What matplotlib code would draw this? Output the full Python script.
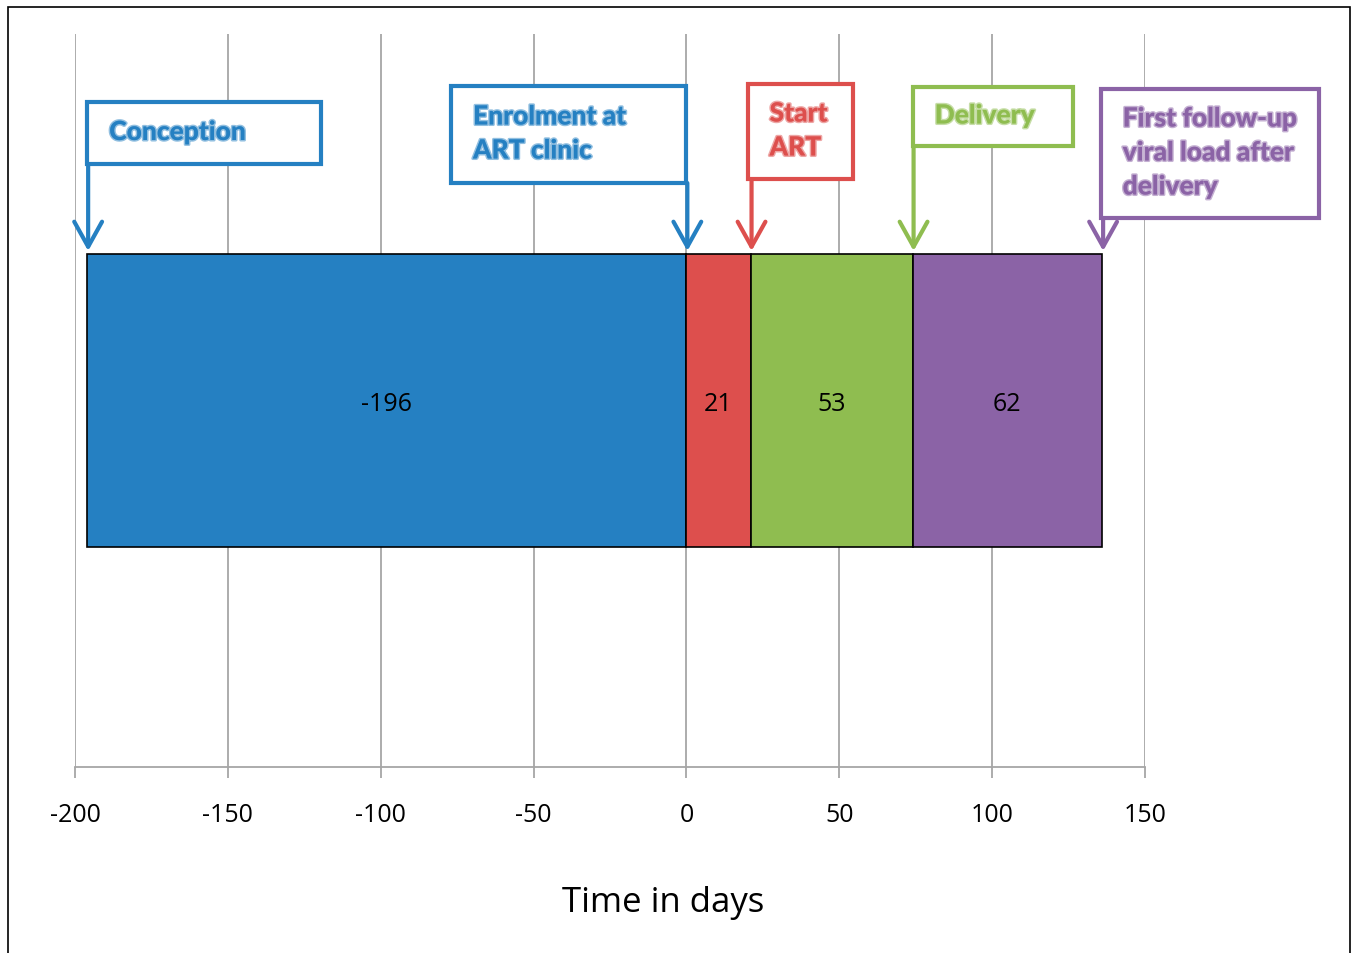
import matplotlib.pyplot as plt
from matplotlib.patches import Rectangle
from matplotlib import transforms
import matplotlib.patheffects as pe

# phase segments of the timeline (days relative to enrolment)
seg_starts = [-196, 0, 21, 74]
seg_widths = [196, 21, 53, 62]
seg_labels = ['-196', '21', '53', '62']
seg_colors = ['#2580c2', '#dd4f4d', '#8fbd50', '#8b63a6']

# events marked with callouts
event_days = [-196, 0, 21, 74, 136]
event_names = ['Conception', 'Enrolment at\nART clinic', 'Start\nART', 'Delivery',
               'First follow-up\nviral load after\ndelivery']
event_colors = ['#2580c2', '#2580c2', '#dd4f4d', '#8fbd50', '#8b63a6']

xticks = [-200, -150, -100, -50, 0, 50, 100, 150]

fig = plt.figure(figsize=(13.57, 9.54), dpi=100)
W, H = 1357, 954
ax = fig.add_axes([75 / W, 1 - 768 / H, (1145 - 75) / W, (768 - 35) / H])

ax.barh(0, seg_widths, left=seg_starts, height=1.0, color=seg_colors,
        edgecolor='black', linewidth=1.2, zorder=3)
for s, w, lab in zip(seg_starts, seg_widths, seg_labels):
    ax.text(s + w / 2, -0.01, lab, ha='center', va='center', fontsize=18,
            family='Open Sans', zorder=4)

ax.set_xlim(-200, 150)
ax.set_ylim(-1.25, 1.25)
ax.set_xticks(xticks)
ax.set_xticklabels([str(t) for t in xticks], fontsize=18, family='Open Sans')
ax.set_yticks([])
ax.grid(axis='x', color='#a6a6a6', linewidth=1.3, zorder=0)
for side in ['top', 'right', 'left']:
    ax.spines[side].set_visible(False)
ax.spines['bottom'].set_color('#a6a6a6')
ax.spines['bottom'].set_linewidth(1.3)
ax.tick_params(axis='x', color='#a6a6a6', width=1.3, length=8, pad=17)
ax.set_xlabel('Time in days', fontsize=25, family='Open Sans')
ax.xaxis.set_label_coords((663 - 75) / (1145 - 75), -(903 - 768) / 733)
ax.xaxis.label.set_va('center')

# callouts: y in axes fraction, box sizes in days
tr = transforms.blended_transform_factory(ax.transData, ax.transAxes)
def yf(py):
    return (768 - py) / 733

box_offset = [0, -77, -1, 0, -0.5]
box_width = [76.5, 77, 34.5, 52.5, 71.5]
box_top = [103, 87, 85, 88, 90]
box_bottom = [165, 184, 180, 147, 219]
bar_top = 252

for d, name, c, off, bw, bt, bb in zip(event_days, event_names, event_colors,
                                       box_offset, box_width, box_top, box_bottom):
    x0 = d + off
    ax.add_patch(Rectangle((x0, yf(bb)), bw, yf(bt) - yf(bb), transform=tr,
                           facecolor='white', edgecolor=c, linewidth=3,
                           clip_on=False, zorder=5))
    ax.annotate('', xy=(d + 0.3, yf(bar_top)), xycoords=tr,
                xytext=(d + 0.3, yf(bb)), textcoords=tr,
                arrowprops=dict(arrowstyle='->,head_length=0.9,head_width=0.5',
                                color=c, lw=3, shrinkA=0, shrinkB=0,
                                mutation_scale=20),
                annotation_clip=False, zorder=5)
    ax.text(x0 + 7.2, yf((bt + bb) / 2 - 1), name,
            transform=tr, ha='left', va='center', fontsize=19,
            fontweight='black', family='Lato', color=c, linespacing=1.5,
            clip_on=False, zorder=6,
            path_effects=[pe.withStroke(linewidth=2.2, foreground=c, alpha=0.5)])

# outer frame of the picture
fig.patches.append(Rectangle((8 / W, -0.01), (1350 - 8) / W, 1.01 - 8 / H,
                             transform=fig.transFigure, fill=False,
                             edgecolor='black', linewidth=1.2))

fig.savefig('out.png', dpi=100)
